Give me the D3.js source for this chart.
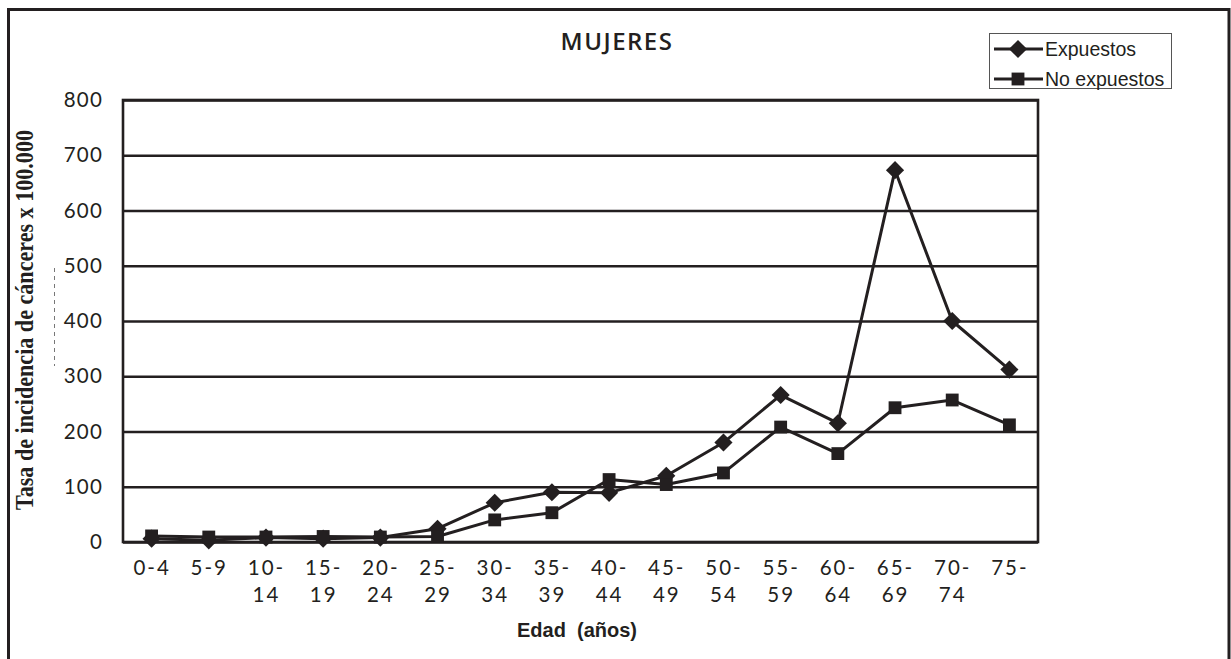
<!DOCTYPE html>
<html>
<head>
<meta charset="utf-8">
<script src="https://cdn.jsdelivr.net/npm/d3@7"></script>
<style>
  html, body { margin: 0; padding: 0; background: #fff; }
  svg { display: block; }
</style>
</head>
<body>
<svg id="chart" width="1231" height="659"></svg>
<script>
// Age groups (x categories)
const ageGroups = ["0-4", "5-9", "10-14", "15-19", "20-24", "25-29", "30-34", "35-39",
                   "40-44", "45-49", "50-54", "55-59", "60-64", "65-69", "70-74", "75-"];
// Incidence rate per 100.000, women
const expuestos   = [6, 3, 8, 6, 8, 24, 71, 90, 89, 120, 180, 266, 215, 673, 400, 312];
const noExpuestos = [11, 9, 9, 10, 9, 10, 40, 53, 113, 104, 125, 208, 160, 243, 257, 212];
const yTicks = [0, 100, 200, 300, 400, 500, 600, 700, 800];
const seriesNames = ["Expuestos", "No expuestos"];

const ink = "#231f20";
const svg = d3.select("#chart");

const plot = { left: 123, right: 1038, top: 100, bottom: 542 };

const x = d3.scalePoint().domain(ageGroups).range([plot.left, plot.right]).padding(0.5);
const y = d3.scaleLinear().domain([0, 800]).range([plot.bottom, plot.top]);

// outer frame (open at the bottom)
svg.append("path")
  .attr("d", "M8.5,659 L8.5,9.5 L1229,9.5 L1229,659")
  .attr("fill", "none").attr("stroke", ink).attr("stroke-width", 3);

// small dashed guide near the axis title
svg.append("line")
  .attr("x1", 54.5).attr("x2", 54.5).attr("y1", 268).attr("y2", 366)
  .attr("stroke", "#777").attr("stroke-width", 1).attr("stroke-dasharray", "4,4");

// title
svg.append("text")
  .attr("x", 617).attr("y", 50)
  .attr("text-anchor", "middle")
  .attr("font-family", "'Open Sans', sans-serif")
  .attr("font-weight", 600)
  .attr("font-size", 24)
  .attr("letter-spacing", 1.5)
  .attr("fill", ink)
  .text("MUJERES");

// y axis with horizontal gridlines
const yAxis = svg.append("g")
  .attr("transform", `translate(${plot.left},0)`)
  .call(d3.axisLeft(y).tickValues(yTicks).tickSize(-(plot.right - plot.left)).tickPadding(20));
yAxis.select(".domain").remove();
yAxis.selectAll(".tick line").attr("stroke", ink).attr("stroke-width", 2.4);
yAxis.selectAll(".tick text")
  .attr("font-family", "Lato, sans-serif")
  .attr("font-size", 20.5)
  .attr("letter-spacing", 1.2)
  .attr("fill", ink);

// plot frame
svg.append("rect")
  .attr("x", plot.left).attr("y", plot.top)
  .attr("width", plot.right - plot.left).attr("height", plot.bottom - plot.top)
  .attr("fill", "none").attr("stroke", ink).attr("stroke-width", 2.6);

// x axis: labels split onto two lines after the dash
const xAxis = svg.append("g")
  .attr("transform", `translate(0,${plot.bottom})`)
  .call(d3.axisBottom(x).tickSize(0).tickPadding(0));
xAxis.select(".domain").remove();
xAxis.selectAll(".tick text").each(function (d) {
  const t = d3.select(this);
  t.text(null).attr("y", null).attr("dy", null)
    .attr("font-family", "Lato, sans-serif")
    .attr("font-size", 20.5)
    .attr("letter-spacing", 2)
    .attr("fill", ink);
  const idx = d.indexOf("-");
  const lower = d.slice(0, idx);
  let l1 = d, l2 = "";
  if (lower.length > 1) { l1 = d.slice(0, idx + 1); l2 = d.slice(idx + 1); }
  t.append("tspan").attr("x", 0).attr("y", 33).text(l1);
  if (l2) t.append("tspan").attr("x", 0).attr("y", 60).text(l2);
});

// axis titles
svg.append("text")
  .attr("x", 577).attr("y", 637)
  .attr("text-anchor", "middle")
  .attr("font-family", "'Liberation Sans', Arial, sans-serif")
  .attr("font-weight", 700)
  .attr("font-size", 20)
  .attr("fill", ink)
  .style("white-space", "pre")
  .text("Edad  (años)");

svg.append("text")
  .attr("transform", "translate(33,320) rotate(-90)")
  .attr("text-anchor", "middle")
  .attr("font-family", "'Liberation Serif', 'Times New Roman', serif")
  .attr("font-weight", 700)
  .attr("font-size", 24.5)
  .attr("textLength", 380)
  .attr("lengthAdjust", "spacingAndGlyphs")
  .attr("fill", ink)
  .text("Tasa de incidencia de cánceres x 100.000");

// series
const line = d3.line().x((d, i) => x(ageGroups[i])).y(d => y(d));
const diamond = d3.symbol().type(d3.symbolDiamond2).size(210);
const square = d3.symbol().type(d3.symbolSquare).size(165);

function drawSeries(values, sym) {
  svg.append("path")
    .datum(values)
    .attr("d", line)
    .attr("fill", "none").attr("stroke", ink).attr("stroke-width", 3)
    .attr("stroke-linejoin", "round");
  svg.append("g").selectAll("path")
    .data(values)
    .join("path")
    .attr("transform", (d, i) => `translate(${x(ageGroups[i])},${y(d)})`)
    .attr("d", sym)
    .attr("fill", ink);
}
drawSeries(expuestos, diamond);
drawSeries(noExpuestos, square);

// legend
const lg = svg.append("g");
lg.append("rect")
  .attr("x", 989.5).attr("y", 33.5).attr("width", 182).attr("height", 55)
  .attr("fill", "#fff").attr("stroke", "#555").attr("stroke-width", 1);
const legendSyms = [diamond, square];
seriesNames.forEach((name, i) => {
  const ly = 49 + i * 30;
  lg.append("line")
    .attr("x1", 994).attr("x2", 1043).attr("y1", ly).attr("y2", ly)
    .attr("stroke", ink).attr("stroke-width", 3);
  lg.append("path")
    .attr("transform", `translate(1018,${ly})`)
    .attr("d", legendSyms[i])
    .attr("fill", ink);
  lg.append("text")
    .attr("x", 1045).attr("y", ly + 7)
    .attr("font-family", "'Liberation Sans', Arial, sans-serif")
    .attr("font-size", 19.5)
    .attr("fill", ink)
    .text(name);
});
</script>
</body>
</html>
